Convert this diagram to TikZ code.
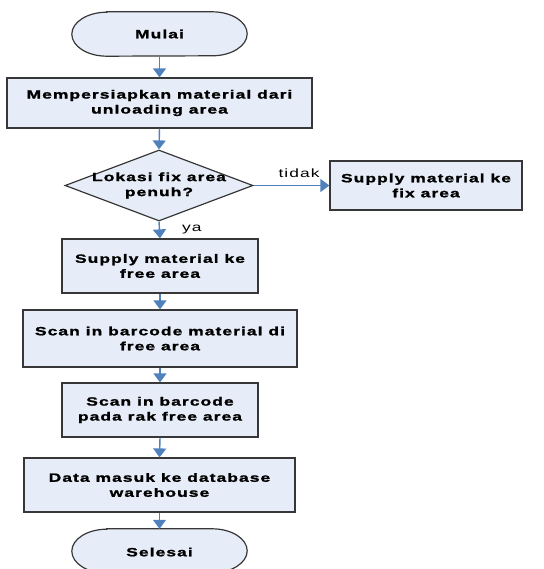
\documentclass[tikz,border=0pt]{standalone}
\usepackage{fontspec}
\setmainfont{Liberation Sans}
\newfontfamily\flowfont{Liberation Sans}[FakeStretch=1.45,LetterSpace=9,BoldFeatures={FakeBold=1.5}]
\usetikzlibrary{shapes.geometric,arrows.meta}
\definecolor{boxfill}{RGB}{231,237,248}
\definecolor{boxline}{RGB}{55,55,55}
\definecolor{arrowblue}{RGB}{79,129,189}
\begin{document}
\begin{tikzpicture}[x=1pt,y=-1pt,
  txt/.style={font=\flowfont\bfseries\fontsize{12}{15}\selectfont,align=center,text=black},
  procbox/.style={draw=boxline,line width=1.2pt,fill=boxfill,rectangle,inner sep=0pt,txt},
  termbox/.style={inner sep=0pt,txt,minimum width=175pt,minimum height=44pt},
  decbox/.style={draw=boxline,line width=1.2pt,fill=boxfill,diamond,inner sep=0pt,minimum width=188pt,minimum height=71pt},
  flow/.style={draw=arrowblue,line width=1.4pt,-{Triangle[length=9pt,width=13pt]}},
  lbl/.style={font=\flowfont\fontsize{12}{15}\selectfont,text=black,inner sep=0pt}]
\useasboundingbox (0,0) rectangle (543,569);
% terminals
\node[termbox] (m) at (159.5,34) {};
\draw[draw=boxline,line width=1.2pt,fill=boxfill]
  ([xshift=35pt]m.north west) -- ([xshift=-35pt]m.north east)
  arc[start angle=90,end angle=-90,x radius=35pt,y radius=22pt]
  -- ([xshift=35pt]m.south west)
  arc[start angle=270,end angle=90,x radius=35pt,y radius=22pt] -- cycle;
\node[txt] at (m.center) {Mulai};

\node[termbox] (s) at (159.5,551) {};
\draw[draw=boxline,line width=1.2pt,fill=boxfill]
  ([xshift=35pt]s.north west) -- ([xshift=-35pt]s.north east)
  arc[start angle=90,end angle=-90,x radius=35pt,y radius=22pt]
  -- ([xshift=35pt]s.south west)
  arc[start angle=270,end angle=90,x radius=35pt,y radius=22pt] -- cycle;
\node[txt] at ([yshift=-1pt]s.center) {Selesai};

% process boxes
\node[procbox,minimum width=305pt,minimum height=50pt] (b1) at (159.5,103) {Mempersiapkan material dari\\unloading area};
\node[decbox,label={[txt,inner sep=0pt]center:Lokasi fix area\\penuh?}] (d) at (159,185.5) {};
\node[procbox,minimum width=192pt,minimum height=49pt] (fx) at (426,185.5) {Supply material ke\\fix area};
\node[procbox,minimum width=196pt,minimum height=54pt] (b2) at (160,266) {Supply material ke\\free area};
\node[procbox,minimum width=274pt,minimum height=57pt] (b3) at (160,338.5) {Scan in barcode material di\\free area};
\node[procbox,minimum width=196pt,minimum height=54pt] (b4) at (160,410) {Scan in barcode\\pada rak free area};
\node[procbox,minimum width=271pt,minimum height=54pt] (b5) at (159.5,485) {Data masuk ke database\\warehouse};

% connectors
\draw[flow] (m.south) -- (b1.north);
\draw[flow] (b1.south) -- (d.north);
\draw[flow] (d.east) -- node[lbl,pos=0.6,above=7pt]{tidak} (fx.west);
\draw[flow] (d.south) -- node[lbl,right=22pt,pos=0.5]{ya} (b2.north);
\draw[flow] (b2.south) -- (b3.north);
\draw[flow] (b3.south) -- (b4.north);
\draw[flow] (b4.south) -- (b5.north);
\draw[flow] (b5.south) -- (s.north);
\end{tikzpicture}
\end{document}
